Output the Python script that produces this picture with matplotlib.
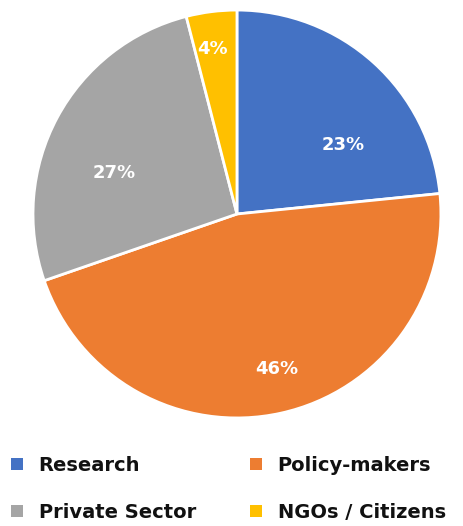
import matplotlib.pyplot as plt
from matplotlib.patches import Patch

labels = ["Research", "Policy-makers", "Private Sector", "NGOs / Citizens"]
shares = [23.4, 46.3, 26.3, 4.0]
pct_labels = ["23%", "46%", "27%", "4%"]
colors = ["#4472C4", "#ED7D31", "#A5A5A5", "#FFC000"]
# label positions (fraction of radius), like Excel's best-fit placement
label_xy = [(0.52, 0.34), (0.196, -0.76), (-0.60, 0.20), (-0.12, 0.81)]

fig = plt.figure(figsize=(4.63, 5.26), dpi=100)
ax = fig.add_axes([0.0713, 0.2053, 0.881, 0.7757])

wedges, texts = ax.pie(
    shares,
    colors=colors,
    startangle=90,
    counterclock=False,
    wedgeprops=dict(edgecolor="white", linewidth=2),
)
for txt, (x, y) in zip(pct_labels, label_xy):
    ax.text(x, y, txt, ha="center", va="center", color="white",
            fontsize=13, fontweight="bold")
ax.set_xlim(-1, 1)
ax.set_ylim(-1, 1)
ax.set_aspect("equal")

handles = [Patch(facecolor=c, edgecolor="none") for c in colors]
order = [0, 2, 1, 3]
fig.legend(
    [handles[i] for i in order],
    [labels[i] for i in order],
    ncol=2,
    loc="center left",
    bbox_to_anchor=(-0.013, 0.071),
    frameon=False,
    prop=dict(size=14, weight="bold"),
    labelcolor="#111111",
    handlelength=0.6,
    handleheight=0.6,
    handletextpad=0.8,
    columnspacing=2.8,
    labelspacing=1.45,
)

fig.savefig("out.png", dpi=100)
